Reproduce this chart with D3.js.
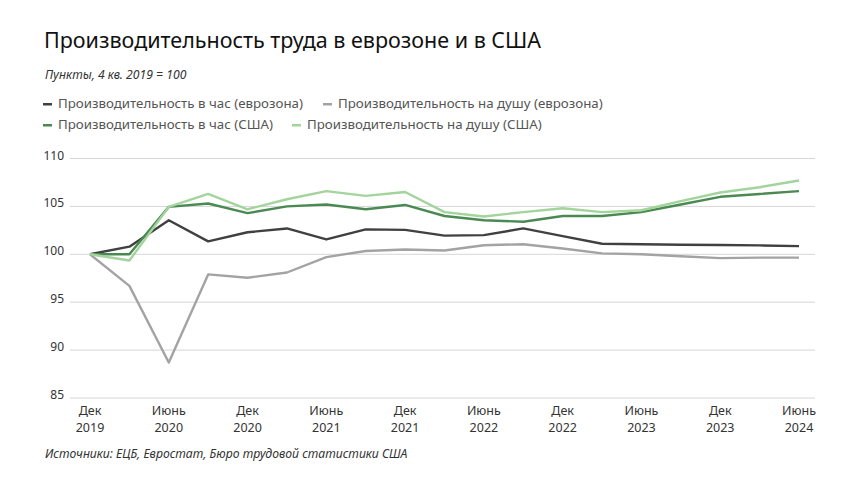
<!DOCTYPE html>
<html><head><meta charset="utf-8">
<script src="https://cdn.jsdelivr.net/npm/d3@7"></script>
<style>
body{margin:0;background:#fff;}
svg text{font-family:"Noto Sans",sans-serif;}
</style></head>
<body><svg id="c" width="860" height="484"></svg>
<script>
const quarters = ["2019Q4","2020Q1","2020Q2","2020Q3","2020Q4","2021Q1","2021Q2","2021Q3","2021Q4","2022Q1","2022Q2","2022Q3","2022Q4","2023Q1","2023Q2","2023Q3","2023Q4","2024Q1","2024Q2"];
const tickLabels = [["Дек","2019"],["Июнь","2020"],["Дек","2020"],["Июнь","2021"],["Дек","2021"],["Июнь","2022"],["Дек","2022"],["Июнь","2023"],["Дек","2023"],["Июнь","2024"]];
const yTicks = [85,90,95,100,105,110];
const euHourly = [100,100.8,103.55,101.35,102.3,102.7,101.55,102.6,102.55,101.95,102.0,102.7,101.9,101.1,101.05,101.0,100.97,100.93,100.85];
const euPerCapita = [100,96.7,88.7,97.9,97.55,98.1,99.7,100.35,100.5,100.4,100.95,101.05,100.6,100.1,100.0,99.8,99.6,99.65,99.65];
const usHourly = [100,100.0,104.95,105.3,104.3,105.0,105.2,104.7,105.15,104.0,103.55,103.4,104.0,104.0,104.4,105.2,106.0,106.3,106.6];
const usPerCapita = [100,99.35,104.95,106.3,104.7,105.75,106.6,106.1,106.5,104.4,103.95,104.4,104.8,104.4,104.6,105.55,106.45,107.0,107.7];
const seriesNames = ["Производительность в час (еврозона)","Производительность на душу (еврозона)","Производительность в час (США)","Производительность на душу (США)"];
const seriesColors = ["#404040","#a3a3a3","#4a8a52","#a2d49c"];

const svg = d3.select("#c");

svg.append("text").attr("x",44).attr("y",48).attr("font-size",21.5).attr("fill","#111").text("Производительность труда в еврозоне и в США");
svg.append("text").attr("x",45).attr("y",79).attr("font-size",12.2).attr("font-style","italic").attr("fill","#333").text("Пункты, 4 кв. 2019 = 100");

// legend
const legPos = [[43,108],[323,108],[43,129],[292,129]];
seriesNames.forEach((n,i)=>{
  const g = svg.append("g").attr("transform",`translate(${legPos[i][0]},${legPos[i][1]})`);
  g.append("rect").attr("x",0).attr("y",-5).attr("width",9).attr("height",2.5).attr("fill",seriesColors[i]);
  g.append("text").attr("x",15).attr("y",0).attr("font-size",13.3).attr("fill","#555").text(n);
});

const x = d3.scalePoint().domain(quarters).range([90,799]);
const y = d3.scaleLinear().domain([85,110]).range([398,158.5]);

const grid = svg.append("g");
yTicks.forEach(t=>{
  grid.append("line").attr("x1",70).attr("x2",815).attr("y1",y(t)).attr("y2",y(t)).attr("stroke","#d6d6d6").attr("stroke-width",1);
  grid.append("text").attr("x",64).attr("y",y(t)+1).attr("text-anchor","end").attr("font-size",12).attr("fill","#333").text(t);
});

tickLabels.forEach((l,i)=>{
  const xx = x(quarters[i*2]);
  const t = svg.append("text").attr("text-anchor","middle").attr("font-size",12.5).attr("fill","#333");
  t.append("tspan").attr("x",xx).attr("y",415).text(l[0]);
  t.append("tspan").attr("x",xx).attr("y",432).text(l[1]);
});

const line = d3.line().x((d,i)=>x(quarters[i])).y(d=>y(d));
const all = [euHourly, euPerCapita, usHourly, usPerCapita];
[1,0,2,3].forEach(i=>{
  svg.append("path").attr("d",line(all[i])).attr("fill","none").attr("stroke",seriesColors[i]).attr("stroke-width",2.4).attr("stroke-linejoin","round");
});

svg.append("text").attr("x",45).attr("y",458).attr("font-size",12.2).attr("font-style","italic").attr("fill","#333").text("Источники: ЕЦБ, Евростат, Бюро трудовой статистики США");
</script></body></html>
